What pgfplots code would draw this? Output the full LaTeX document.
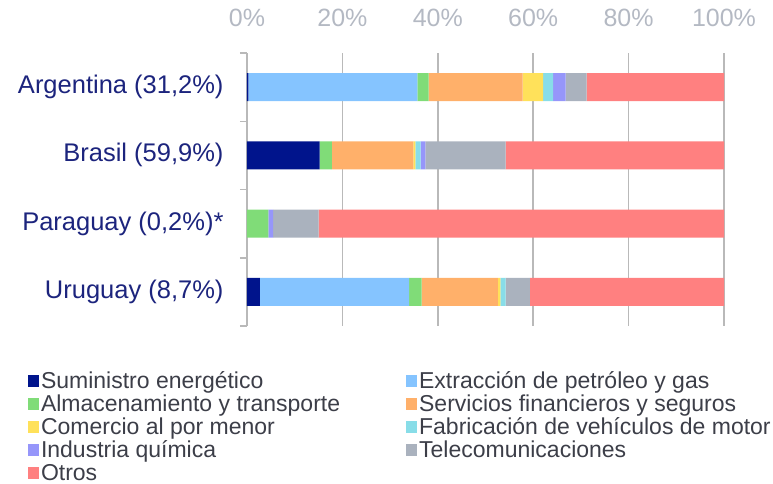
\documentclass[border=0pt]{standalone}
\usepackage{pgfplots}
\pgfplotsset{compat=1.18}
\usepackage{fontspec}
\setmainfont{Liberation Sans}
\definecolor{cNavy}{RGB}{0,20,140}
\definecolor{cBlue}{RGB}{133,196,255}
\definecolor{cGreen}{RGB}{128,220,120}
\definecolor{cOrange}{RGB}{255,176,106}
\definecolor{cYellow}{RGB}{255,225,90}
\definecolor{cCyan}{RGB}{136,221,232}
\definecolor{cPurple}{RGB}{150,150,250}
\definecolor{cGray}{RGB}{170,178,190}
\definecolor{cRed}{RGB}{255,128,128}
\definecolor{labNavy}{RGB}{28,36,125}
\definecolor{tickGray}{RGB}{180,185,195}
\definecolor{lineGray}{RGB}{185,185,185}
\definecolor{legText}{RGB}{60,62,72}
\begin{document}
\begin{tikzpicture}
\useasboundingbox (-247pt,-158pt) rectangle (526pt,326pt);
\begin{axis}[
  scale only axis,
  width=477pt, height=273pt,
  xbar stacked,
  bar width=28pt,
  bar shift=0pt,
  legend image code/.code={\fill[#1,draw=none] (0pt,2pt) rectangle (11pt,14pt);},
  xmin=0, xmax=100,
  ymin=-0.5, ymax=3.5,
  y dir=reverse,
  axis x line*=top,
  axis y line*=left,
  x axis line style={draw=none},
  y axis line style={lineGray, line width=1.5pt},
  xtick={0,20,40,60,80,100},
  xticklabels={0\%,20\%,40\%,60\%,80\%,100\%},
  xticklabel style={anchor=base, inner sep=0pt, yshift=22pt, font=\fontsize{25}{28}\selectfont, text=tickGray},
  major x tick style={draw=none},
  xmajorgrids,
  major grid style={lineGray, line width=1.5pt},
  ytick={0,1,2,3},
  yticklabels={{Argentina (31,2\%)},{Brasil (59,9\%)},{Paraguay (0,2\%)*},{Uruguay (8,7\%)}},
  yticklabel style={anchor=east, inner sep=0pt, xshift=-19pt, font=\fontsize{25.5}{28}\selectfont, text=labNavy},
  major y tick style={draw=none},
  minor ytick={-0.5,0.5,1.5,2.5,3.5},
  tick align=outside,
  minor tick length=7pt,
  minor y tick style={lineGray, line width=1.5pt},
  legend columns=2,
  legend style={
    draw=none, fill=none, inner sep=0pt, outer sep=0pt,
    at={(axis description cs:-0.4591,-0.1685)}, anchor=north west,
    font=\fontsize{23}{23}\selectfont, text=legText,
    nodes={text height=16.7pt, text depth=6.3pt, inner sep=0pt, anchor=base west},
    row sep=0pt,
    /tikz/every odd column/.append style={column sep=2pt},
    /tikz/every even column/.append style={column sep=66pt},
  },
  legend cell align=left,
]
\addplot[fill=cNavy, draw=none] coordinates {(0.3,0) (15.2,1) (0,2) (2.7,3)};
\addlegendentry{Suministro energético}
\addplot[fill=cBlue, draw=none] coordinates {(35.4,0) (0,1) (0,2) (31.3,3)};
\addlegendentry{Extracción de petróleo y gas}
\addplot[fill=cGreen, draw=none] coordinates {(2.4,0) (2.6,1) (4.5,2) (2.6,3)};
\addlegendentry{Almacenamiento y transporte}
\addplot[fill=cOrange, draw=none] coordinates {(19.7,0) (17.1,1) (0,2) (16.0,3)};
\addlegendentry{Servicios financieros y seguros}
\addplot[fill=cYellow, draw=none] coordinates {(4.3,0) (0.4,1) (0,2) (0.5,3)};
\addlegendentry{Comercio al por menor}
\addplot[fill=cCyan, draw=none] coordinates {(2.1,0) (1.1,1) (0,2) (1.1,3)};
\addlegendentry{Fabricación de vehículos de motor}
\addplot[fill=cPurple, draw=none] coordinates {(2.6,0) (1.0,1) (1.0,2) (0,3)};
\addlegendentry{Industria química}
\addplot[fill=cGray, draw=none] coordinates {(4.4,0) (16.8,1) (9.5,2) (5.1,3)};
\addlegendentry{Telecomunicaciones}
\addplot[fill=cRed, draw=none] coordinates {(28.8,0) (45.8,1) (85.0,2) (40.7,3)};
\addlegendentry{Otros}
\end{axis}
\end{tikzpicture}
\end{document}
